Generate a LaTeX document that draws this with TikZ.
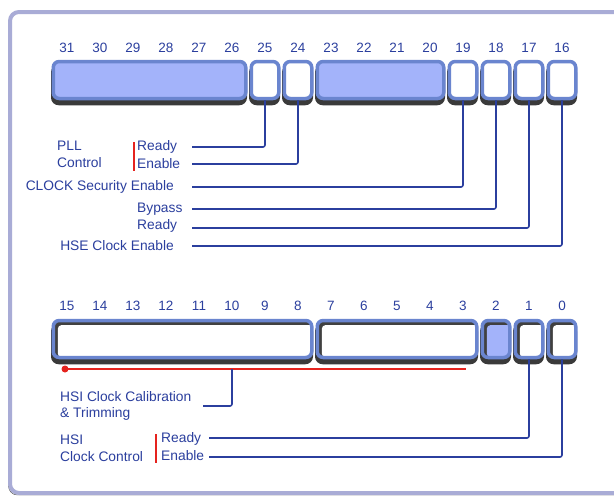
\documentclass[tikz,border=0pt]{standalone}
\usepackage{xcolor}
\usepackage{fontspec}
\setmainfont{Liberation Sans}
\usepackage{tikz}

\definecolor{regedge}{HTML}{6A85CF}
\definecolor{regfill}{HTML}{A3B3FA}
\definecolor{labelblue}{HTML}{2B3F9E}
\definecolor{markred}{HTML}{E5231E}
\definecolor{framecol}{HTML}{A9ACD6}
\definecolor{shadowcol}{HTML}{3A3A3A}

\begin{document}
\begin{tikzpicture}[x=1pt, y=-1pt,
    reg/.style={draw=regedge, line width=3.5pt, rectangle, rounded corners=6pt, fill=white,
        minimum height=37pt, inner sep=0pt,
        preaction={draw=shadowcol, fill=shadowcol, transform canvas={xshift=-0.5pt, yshift=-5pt}}},
    setreg/.style={reg, fill=regfill},
    insetreg/.style={reg, path picture={
        \fill[black!75] (path picture bounding box.south west) rectangle (path picture bounding box.north east);
        \fill[white, rounded corners=4pt] ([xshift=4.5pt]path picture bounding box.south west)
            rectangle ([xshift=4.5pt, yshift=-4.5pt]path picture bounding box.north east);}},
    insetset/.style={insetreg, path picture={
        \fill[black!75] (path picture bounding box.south west) rectangle (path picture bounding box.north east);
        \fill[regfill, rounded corners=4pt] ([xshift=4.5pt]path picture bounding box.south west)
            rectangle ([xshift=4.5pt, yshift=-4.5pt]path picture bounding box.north east);}},
    bitnum/.style={text=labelblue, font=\fontsize{13.5}{16}\selectfont, inner sep=0pt},
    lbl/.style={text=labelblue, font=\fontsize{13.8}{16}\selectfont, inner sep=0pt},
    wire/.style={draw=labelblue, line width=1.6pt, rounded corners=2pt},
    redbar/.style={draw=markred, line width=2pt}]

    \useasboundingbox (0,0) rectangle (614,498);
    \fill[white] (0,0) rectangle (614,498);

    % Frame
    \draw[framecol, line width=4pt, rounded corners=9pt, fill=white,
        preaction={draw=shadowcol, transform canvas={xshift=-1.5pt, yshift=-2pt}}]
        (10,12) rectangle (640,493);

    % Top register, bits 31..16
    \foreach \b in {16,...,31}
        \node[bitnum] (n\b) at ({67+(31-\b)*33},48) {\b};
    \node[setreg, minimum width=192.5pt] (r26) at (149.5,80) {};
    \node[reg, minimum width=27.5pt] (r25) at (265,80) {};
    \node[reg, minimum width=27.5pt] (r24) at (298,80) {};
    \node[setreg, minimum width=126.5pt] (r20) at (380.5,80) {};
    \node[reg, minimum width=27.5pt] (r19) at (463,80) {};
    \node[reg, minimum width=27.5pt] (r18) at (496,80) {};
    \node[reg, minimum width=27.5pt] (r17) at (529,80) {};
    \node[reg, minimum width=27.5pt] (r16) at (562,80) {};

    % PLL control
    \node[lbl, anchor=west] (pll) at (57,146) {PLL};
    \node[lbl, anchor=west] (pllctl) at (57,163) {Control};
    \draw[redbar] (134,142) -- (134,171);
    \node[lbl, anchor=west] (pllrdy) at (137,147) {Ready};
    \node[lbl, anchor=west] (pllen) at (137,164) {Enable};

    % Clock security and HSE
    \node[lbl, anchor=east] (css) at (174,187) {CLOCK Security Enable};
    \node[lbl, anchor=west] (hsebyp) at (137,209) {Bypass};
    \node[lbl, anchor=west] (hserdy) at (137,226) {Ready};
    \node[lbl, anchor=east] (hseon) at (174,246) {HSE Clock Enable};

    \coordinate (e25) at (192,147);
    \coordinate (e24) at (192,164);
    \coordinate (e19) at (192,187);
    \coordinate (e18) at (192,209);
    \coordinate (e17) at (192,228);
    \coordinate (e16) at (192,246);
    \draw[wire] (r25.south) |- (e25);
    \draw[wire] (r24.south) |- (e24);
    \draw[wire] (r19.south) |- (e19);
    \draw[wire] (r18.south) |- (e18);
    \draw[wire] (r17.south) |- (e17);
    \draw[wire] (r16.south) |- (e16);

    % Bottom register, bits 15..0
    \foreach \b in {0,...,15}
        \node[bitnum] (m\b) at ({67+(15-\b)*33},306) {\b};
    \node[insetreg, minimum width=258.5pt] (r8) at (182.5,339) {};
    \node[insetreg, minimum width=159.5pt] (r3) at (397,339) {};
    \node[insetset, minimum width=27.5pt] (r2) at (496,339) {};
    \node[insetreg, minimum width=27.5pt] (r1) at (529,339) {};
    \node[insetreg, minimum width=27.5pt] (r0) at (562,339) {};

    % HSI calibration and trimming
    \coordinate (calstart) at (65,369);
    \coordinate (calend) at (466,369);
    \coordinate (caltap) at (232,369);
    \draw[markred, line width=1.6pt] (calstart) -- (calend);
    \fill[markred] (calstart) circle (3.5pt);
    \node[lbl, anchor=west] (hsical) at (60,397) {HSI Clock Calibration};
    \node[lbl, anchor=west] (hsitrim) at (60,414) {\& Trimming};
    \coordinate (ecal) at (203,406);
    \draw[wire] (caltap) |- (ecal);

    % HSI clock control
    \node[lbl, anchor=west] (hsi) at (60,440) {HSI};
    \node[lbl, anchor=west] (hsictl) at (60,457) {Clock Control};
    \draw[redbar] (156,434) -- (156,463);
    \node[lbl, anchor=west] (hsirdy) at (161,439) {Ready};
    \node[lbl, anchor=west] (hsien) at (161,456) {Enable};

    \coordinate (e1) at (209,438);
    \coordinate (e0) at (209,457);
    \draw[wire] (r1.south) |- (e1);
    \draw[wire] (r0.south) |- (e0);
\end{tikzpicture}
\end{document}
